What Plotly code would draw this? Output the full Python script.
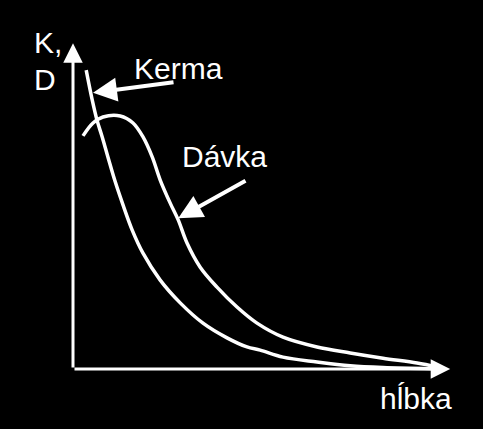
import plotly.graph_objects as go

# depth (arbitrary units) and the two curves
kerma_x = [0.33, 0.48, 0.6, 0.73, 0.88, 1.05, 1.25, 1.48, 1.75, 2.18, 2.68, 3.25,
           3.85, 4.35, 4.68, 5.25, 6.1, 6.93, 7.75, 9.0]
kerma_y = [8.54, 7.69, 7.11, 6.63, 6.03, 5.37, 4.69, 3.97, 3.31, 2.54, 1.89, 1.31,
           0.89, 0.63, 0.54, 0.34, 0.2, 0.09, 0.04, 0.01]

davka_x = [0.25, 0.5, 0.75, 1.18, 1.5, 1.75, 1.98, 2.18, 2.43, 2.63, 2.85, 3.18,
           3.6, 4.1, 4.6, 5.25, 6.1, 6.93, 7.75, 8.6, 9.1]
davka_y = [6.66, 7.03, 7.2, 7.23, 7.03, 6.63, 6.06, 5.4, 4.74, 4.26, 3.6, 2.91,
           2.34, 1.77, 1.31, 0.91, 0.63, 0.46, 0.31, 0.17, 0.06]

x_label = "hĺbka"
y_label = ["K,", "D"]
names = ["Kerma", "Dávka"]

FONT = dict(family="Liberation Sans, Arial, sans-serif", size=30, color="white")

fig = go.Figure()
fig.add_trace(go.Scatter(x=kerma_x, y=kerma_y, mode="lines", line_shape="spline",
                         line=dict(color="white", width=3.5), name=names[0]))
fig.add_trace(go.Scatter(x=davka_x, y=davka_y, mode="lines", line_shape="spline",
                         line=dict(color="white", width=3.5), name=names[1]))

# axes drawn as arrows
arrow = dict(xref="x", yref="y", axref="x", ayref="y", text="", showarrow=True,
             arrowhead=2, arrowcolor="white")
fig.add_annotation(arrow, x=0, y=9.31, ax=0, ay=0, arrowsize=1.3, arrowwidth=3)
fig.add_annotation(arrow, x=9.43, y=0, ax=0, ay=0, arrowsize=1.3, arrowwidth=3)

# pointers to the curves
fig.add_annotation(arrow, x=0.5, y=7.89, ax=2.55, ay=8.2, arrowsize=1.2, arrowwidth=4)
fig.add_annotation(arrow, x=2.63, y=4.31, ax=4.35, ay=5.4, arrowsize=1.2, arrowwidth=4)

# texts
txt = dict(xref="x", yref="y", showarrow=False, xanchor="left", yanchor="middle", font=FONT)
fig.add_annotation(txt, x=-1.03, y=9.34, text=y_label[0])
fig.add_annotation(txt, x=-1.03, y=8.26, text=y_label[1])
fig.add_annotation(txt, x=1.48, y=8.6, text=names[0])
fig.add_annotation(txt, x=2.68, y=6.06, text=names[1])
fig.add_annotation(txt, x=7.63, y=-0.84, text=x_label)

fig.update_xaxes(visible=False, range=[-1.825, 10.25])
fig.update_yaxes(visible=False, range=[-1.714, 10.543])
fig.update_layout(
    width=483, height=429,
    margin=dict(l=0, r=0, t=0, b=0),
    paper_bgcolor="black", plot_bgcolor="black",
    showlegend=False,
)

# no page margin around the figure, no toolbar
fig.write_html("out.html", config={"displayModeBar": False},
               post_script="document.body.style.margin='0';")
